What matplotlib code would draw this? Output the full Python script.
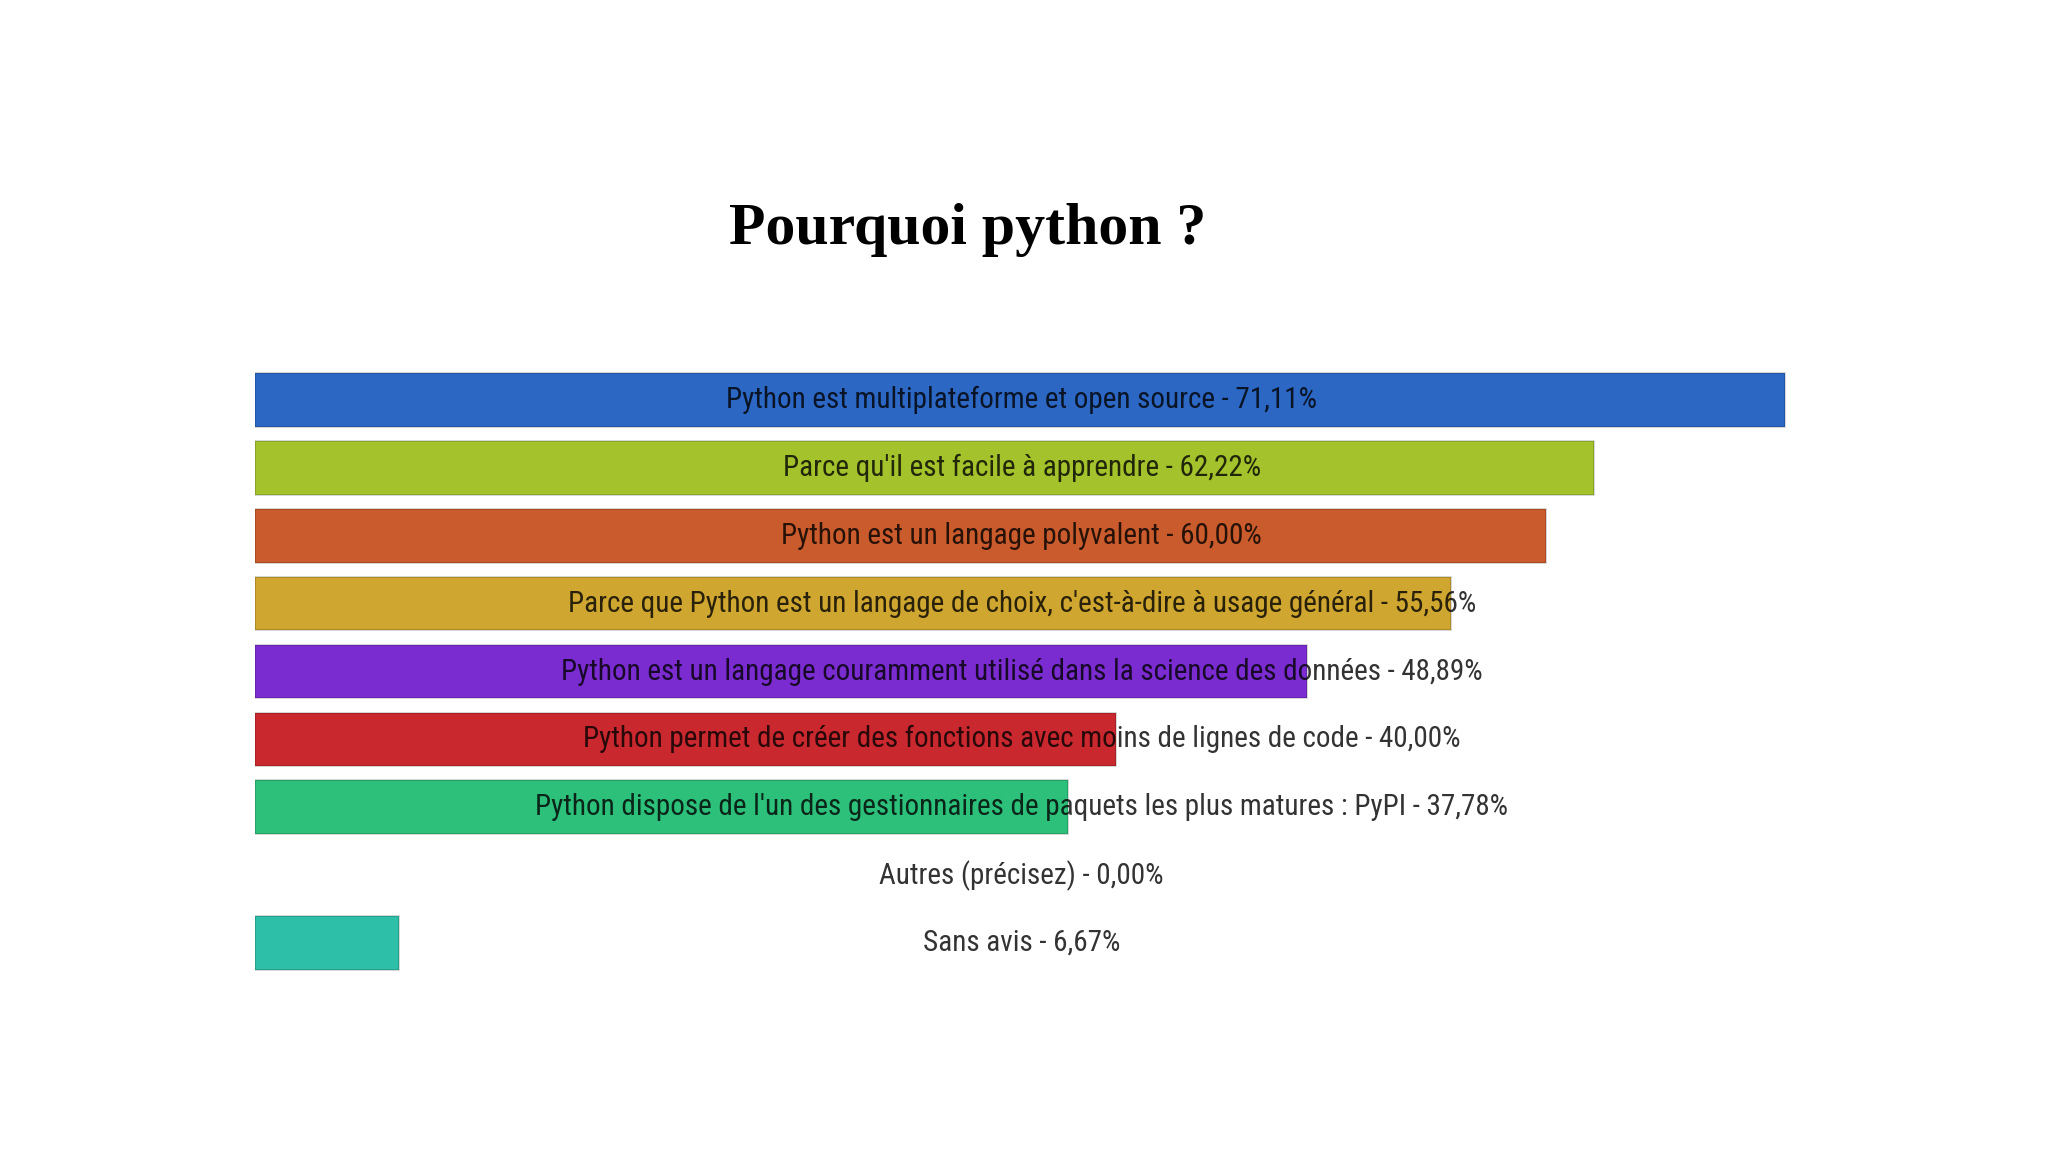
import matplotlib
matplotlib.use("Agg")
import matplotlib.pyplot as plt
from matplotlib import font_manager
from matplotlib.font_manager import FontProperties

# survey answers, top to bottom
answers = [
    "Python est multiplateforme et open source",
    "Parce qu'il est facile à apprendre",
    "Python est un langage polyvalent",
    "Parce que Python est un langage de choix, c'est-à-dire à usage général",
    "Python est un langage couramment utilisé dans la science des données",
    "Python permet de créer des fonctions avec moins de lignes de code",
    "Python dispose de l'un des gestionnaires de paquets les plus matures : PyPI",
    "Autres (précisez)",
    "Sans avis",
]
percents = [71.11, 62.22, 60.00, 55.56, 48.89, 40.00, 37.78, 0.00, 6.67]
colors = ["#2d67c4", "#a3c22b", "#c95b2c", "#cfa62f", "#7a2cd0",
          "#c9282f", "#2dc07b", "#2dc0a8", "#2dbfa8"]


def pick_label_font():
    # look for a narrow sans face, the original labels are very condensed
    wanted = ["Liberation Sans Narrow", "Roboto Condensed", "Open Sans Condensed",
              "Noto Sans", "DejaVu Sans", "Roboto", "Liberation Sans"]
    found = {}
    for f in font_manager.fontManager.ttflist:
        if f.style != "normal" or f.weight not in (400, "normal", "regular"):
            continue
        narrow = "condensed" in str(f.stretch) or "Narrow" in f.name or "Condensed" in f.name
        if narrow:
            found.setdefault(f.name, f.fname)
    for name in wanted:
        if name in found:
            return FontProperties(fname=found[name])
    return FontProperties(family="Liberation Sans")


def main():
    fig = plt.figure(figsize=(20.48, 11.52), dpi=100)
    ax = fig.add_axes([0.1245, 0.1519, 0.7882, 0.5304])

    ys = list(range(len(answers)))
    widths = [1.2 if p > 0 else 0 for p in percents]
    ax.barh(ys, percents, height=0.79, color=colors, edgecolor="#00000030", linewidth=widths)
    ax.set_xlim(0, 75)
    ax.set_ylim(len(answers) - 0.5, -0.5)
    ax.axis("off")

    fp = pick_label_font()
    labels = [f"{name} - {p:.2f}%".replace(".", ",") for name, p in zip(answers, percents)]

    # size the labels so the first one is as wide as in the original (~587 px)
    renderer = fig.canvas.get_renderer()
    probe = fig.text(0, 0, labels[0], fontproperties=fp, fontsize=20)
    w = probe.get_window_extent(renderer).width
    probe.remove()
    size = min(20 * 590 / w, 27)

    for y, txt in zip(ys, labels):
        ax.text(0.475, y, txt, transform=ax.get_yaxis_transform(), ha="center", va="center",
                fontproperties=fp, fontsize=size, color="black", alpha=0.8)

    fig.text(0.4724, 0.8006, "Pourquoi python ?", ha="center", va="center",
             fontsize=43, fontweight="bold", family="Liberation Serif")

    fig.savefig("out.png", dpi=100, facecolor="white")
    plt.close(fig)


if __name__ == "__main__":
    main()
